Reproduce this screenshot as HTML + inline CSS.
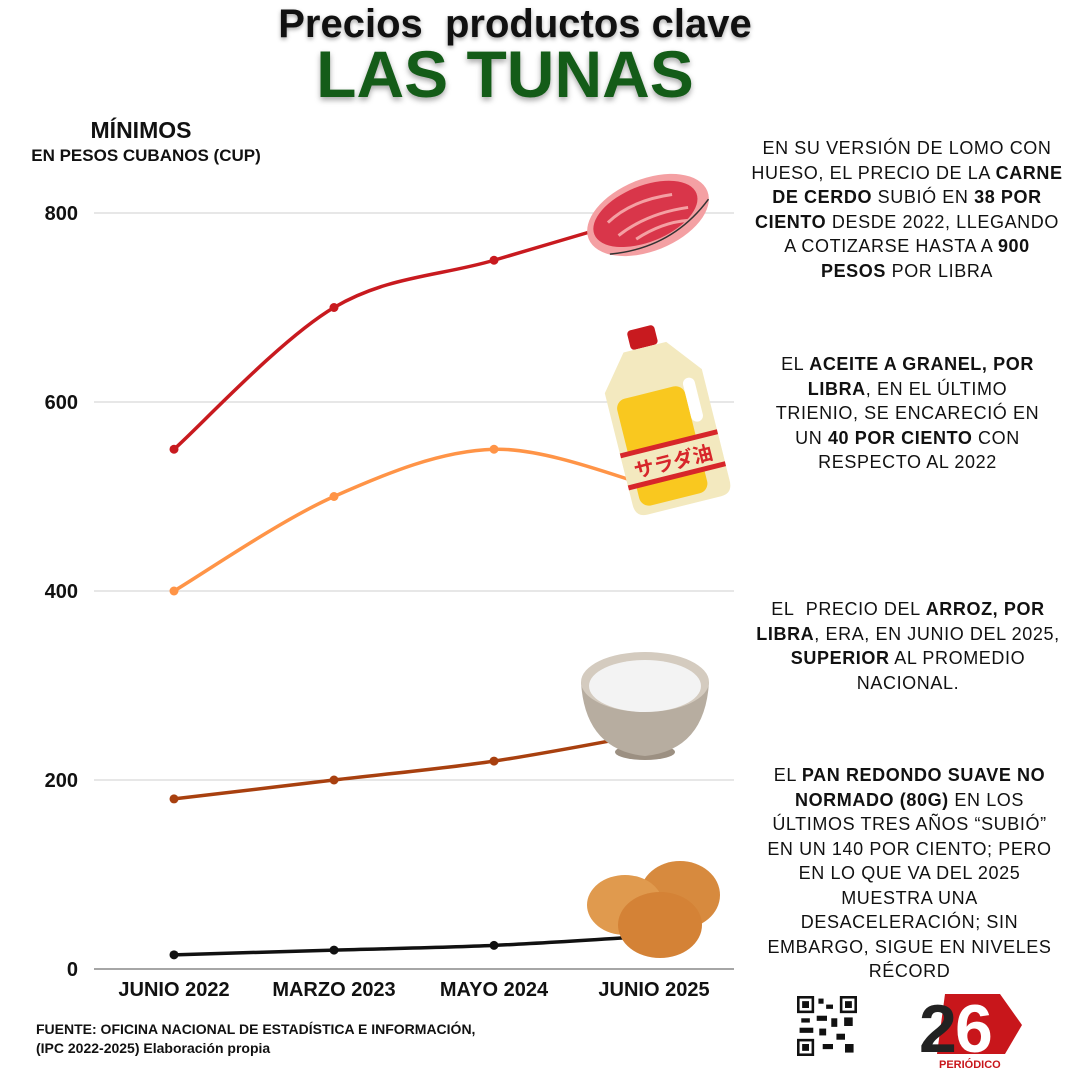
<!DOCTYPE html>
<html><head><meta charset="utf-8">
<style>
body{margin:0;background:#fff;}
#wrap{position:relative;width:1080px;height:1080px;overflow:hidden;background:#fff;font-family:"Liberation Sans",sans-serif;}
.t{position:absolute;}
.note{position:absolute;left:749px;width:316px;text-align:center;font-size:18px;line-height:24.5px;color:#111;letter-spacing:0.6px;}
.note b{font-weight:900;}
</style></head><body>
<div id="wrap">
<div class="t" style="left:215px;top:2px;width:600px;text-align:center;font-weight:bold;font-size:40px;color:#111;text-shadow:0 2px 4px rgba(0,0,0,.35);">Precios&nbsp; productos clave</div>
<div class="t" style="left:205px;top:36px;width:600px;text-align:center;font-weight:900;font-size:66px;color:#145c18;text-shadow:0 3px 6px rgba(0,0,0,.35);">LAS TUNAS</div>
<div class="t" style="left:6px;top:117px;width:270px;text-align:center;font-weight:bold;font-size:23px;color:#111;">MÍNIMOS</div>
<div class="t" style="left:-4px;top:146px;width:300px;text-align:center;font-weight:bold;font-size:17px;color:#111;">EN PESOS CUBANOS (CUP)</div>

<svg id="chart" width="1080" height="1080" style="position:absolute;left:0;top:0;"></svg>

<div class="note" style="top:136px;">EN SU VERSIÓN DE LOMO CON HUESO, EL PRECIO DE LA <b>CARNE DE CERDO</b> SUBIÓ EN <b>38 POR CIENTO</b> DESDE 2022, LLEGANDO A COTIZARSE HASTA A <b>900 PESOS</b> POR LIBRA</div>
<div class="note" style="top:352px;left:765px;width:285px;">EL <b>ACEITE A GRANEL, POR LIBRA</b>, EN EL ÚLTIMO TRIENIO, SE ENCARECIÓ EN UN <b>40 POR CIENTO</b> CON RESPECTO AL 2022</div>
<div class="note" style="top:597px;left:747px;width:322px;">EL&nbsp; PRECIO DEL <b>ARROZ, POR LIBRA</b>, ERA, EN JUNIO DEL 2025, <b>SUPERIOR</b> AL PROMEDIO NACIONAL.</div>
<div class="note" style="top:763px;left:757px;width:305px;">EL <b>PAN REDONDO SUAVE NO NORMADO (80G)</b> EN LOS ÚLTIMOS TRES AÑOS “SUBIÓ” EN UN 140 POR CIENTO; PERO EN LO QUE VA DEL 2025 MUESTRA UNA DESACELERACIÓN; SIN EMBARGO, SIGUE EN NIVELES RÉCORD</div>

<div class="t" style="left:36px;top:1020px;font-size:14px;font-weight:bold;line-height:19px;color:#111;">FUENTE: OFICINA NACIONAL DE ESTADÍSTICA E INFORMACIÓN,<br>(IPC 2022-2025) Elaboración propia</div>

<svg class="t" style="left:797px;top:996px" width="60" height="60" viewBox="0 0 7 7">
<rect width="7" height="7" fill="#fff"/>
<g fill="#111"><rect x="0" y="0" width="2" height="2"/><rect x="5" y="0" width="2" height="2"/><rect x="0" y="5" width="2" height="2"/>
<rect x="2.5" y="0.3" width="0.6" height="0.6"/><rect x="3.4" y="1" width="0.8" height="0.5"/><rect x="2.3" y="2.3" width="1.2" height="0.6"/><rect x="4" y="2.6" width="0.7" height="1"/><rect x="0.5" y="2.6" width="1" height="0.5"/><rect x="5.5" y="2.5" width="1" height="1"/><rect x="2.6" y="3.8" width="0.8" height="0.8"/><rect x="4.6" y="4.4" width="1" height="0.7"/><rect x="3" y="5.6" width="1.2" height="0.6"/><rect x="5.6" y="5.6" width="1" height="1"/><rect x="0.3" y="3.7" width="1.6" height="0.6"/></g>
<g fill="#fff"><rect x="0.3" y="0.3" width="1.4" height="1.4"/><rect x="5.3" y="0.3" width="1.4" height="1.4"/><rect x="0.3" y="5.3" width="1.4" height="1.4"/></g>
<g fill="#111"><rect x="0.6" y="0.6" width="0.8" height="0.8"/><rect x="5.6" y="0.6" width="0.8" height="0.8"/><rect x="0.6" y="5.6" width="0.8" height="0.8"/></g>
</svg>

<svg class="t" style="left:915px;top:990px" width="115" height="82">
<polygon points="30,4 85,4 107,35 90,64 22,64" fill="#c8161b"/>
<text x="4" y="62" font-family="Liberation Sans" font-weight="bold" font-size="68" fill="#222" letter-spacing="-8">2</text>
<text x="40" y="62" font-family="Liberation Sans" font-weight="bold" font-size="68" fill="#fff">6</text>
<text x="24" y="78" font-family="Liberation Sans" font-weight="bold" font-size="11" fill="#c8161b">PERIÓDICO</text>
</svg>
</div>

<script>
const categories = ["JUNIO 2022","MARZO 2023","MAYO 2024","JUNIO 2025"];
const yTicks = [0,200,400,600,800];
const porkValues = [550,700,750,800];
const oilValues = [400,500,550,510];
const riceValues = [180,200,220,250];
const breadValues = [15,20,25,35];

const NS = "http://www.w3.org/2000/svg";
const svg = document.getElementById("chart");
const xScale = i => 174 + i*160;
const yScale = v => 969 - v*0.945;
function mk(tag, attrs, parent){
  const e = document.createElementNS(NS, tag);
  for (const k in attrs) e.setAttribute(k, attrs[k]);
  (parent||svg).appendChild(e);
  return e;
}
yTicks.forEach(v=>{
  const g = mk("line",{x1:94,x2:734,y1:yScale(v),y2:yScale(v),stroke:v===0?"#888":"#cfcfcf","stroke-width":v===0?1.5:1});
  
  
  const t = mk("text",{x:78,y:yScale(v)+7,"text-anchor":"end","font-family":"Liberation Sans, sans-serif","font-weight":"bold","font-size":20,fill:"#111"});
  t.textContent = v;
  
  
});
categories.forEach((c,i)=>{
  const t = mk("text",{x:xScale(i),y:996,"text-anchor":"middle","font-family":"Liberation Sans, sans-serif","font-weight":"bold","font-size":20,fill:"#111"});
  t.textContent = c;
  
  
});
function smooth(vals){
  const p = vals.map((v,i)=>[xScale(i),yScale(v)]);
  let d = "M"+p[0][0]+","+p[0][1];
  for(let i=0;i<p.length-1;i++){
    const p0=p[i-1]||p[i], p1=p[i], p2=p[i+1], p3=p[i+2]||p2;
    const c1=[p1[0]+(p2[0]-p0[0])/6, p1[1]+(p2[1]-p0[1])/6];
    const c2=[p2[0]-(p3[0]-p1[0])/6, p2[1]-(p3[1]-p1[1])/6];
    d+=" C"+c1+" "+c2+" "+p2;
  }
  return d;
}
const series = [[porkValues,"#c81a1f","pork"],[oilValues,"#ff9447","oil"],[riceValues,"#a8400f","rice"],[breadValues,"#111","bread"]];
series.forEach(([vals,col,name])=>{
  const path = mk("path",{d:smooth(vals),fill:"none",stroke:col,"stroke-width":3.5});
  
  
  vals.forEach((v,i)=>{
    const c = mk("circle",{cx:xScale(i),cy:yScale(v),r:4.5,fill:col});
    
    
  });
});
const ill = mk("g",{});


ill.innerHTML = `
<g transform="translate(648,215) rotate(-22)">
 <ellipse cx="0" cy="0" rx="64" ry="36" fill="#f4a0a3"/>
 <ellipse cx="-2" cy="-2" rx="55" ry="28" fill="#d9364a"/>
 <path d="M-40,-8 Q-10,-20 30,-10 M-35,8 Q0,-2 40,8 M-20,18 Q10,12 35,20" stroke="#f4a0a3" stroke-width="3" fill="none"/>
 <path d="M-50,22 Q10,40 62,8" stroke="#333" stroke-width="1.5" fill="none"/>
</g>
<g transform="translate(663,420) rotate(-14)">
 <rect x="-14" y="-95" width="28" height="20" rx="4" fill="#c81a1f"/>
 <path d="M-22,-75 L22,-75 L50,-40 L50,75 Q50,88 38,88 L-38,88 Q-50,88 -50,75 L-50,-40 Z" fill="#f3e9bf"/>
 <rect x="-42" y="-30" width="70" height="110" rx="10" fill="#f9c81f"/>
 <rect x="28" y="-35" width="12" height="45" rx="6" fill="#fff"/>
 <rect x="-50" y="25" width="100" height="32" fill="#f3e9bf"/>
 <rect x="-50" y="22" width="100" height="5" fill="#d7262a"/>
 <rect x="-50" y="55" width="100" height="5" fill="#d7262a"/>
 <text x="0" y="50" text-anchor="middle" font-family="Noto Sans CJK JP, sans-serif" font-weight="bold" font-size="20" fill="#d7262a">サラダ油</text>
</g>
<g transform="translate(645,700)">
 <ellipse cx="0" cy="52" rx="30" ry="8" fill="#9c9082"/>
 <path d="M-64,-18 Q-60,50 0,56 Q60,50 64,-18 Z" fill="#b7ada0"/>
 <ellipse cx="0" cy="-18" rx="64" ry="30" fill="#d4cbbf"/>
 <ellipse cx="0" cy="-14" rx="56" ry="26" fill="#f3f3f3"/>
</g>
<g transform="translate(650,905)">
 <ellipse cx="30" cy="-10" rx="40" ry="34" fill="#d78a3e"/>
 <ellipse cx="-25" cy="0" rx="38" ry="30" fill="#e09a4e"/>
 <ellipse cx="10" cy="20" rx="42" ry="33" fill="#d48236"/>
</g>`;
</script>
</body></html>
